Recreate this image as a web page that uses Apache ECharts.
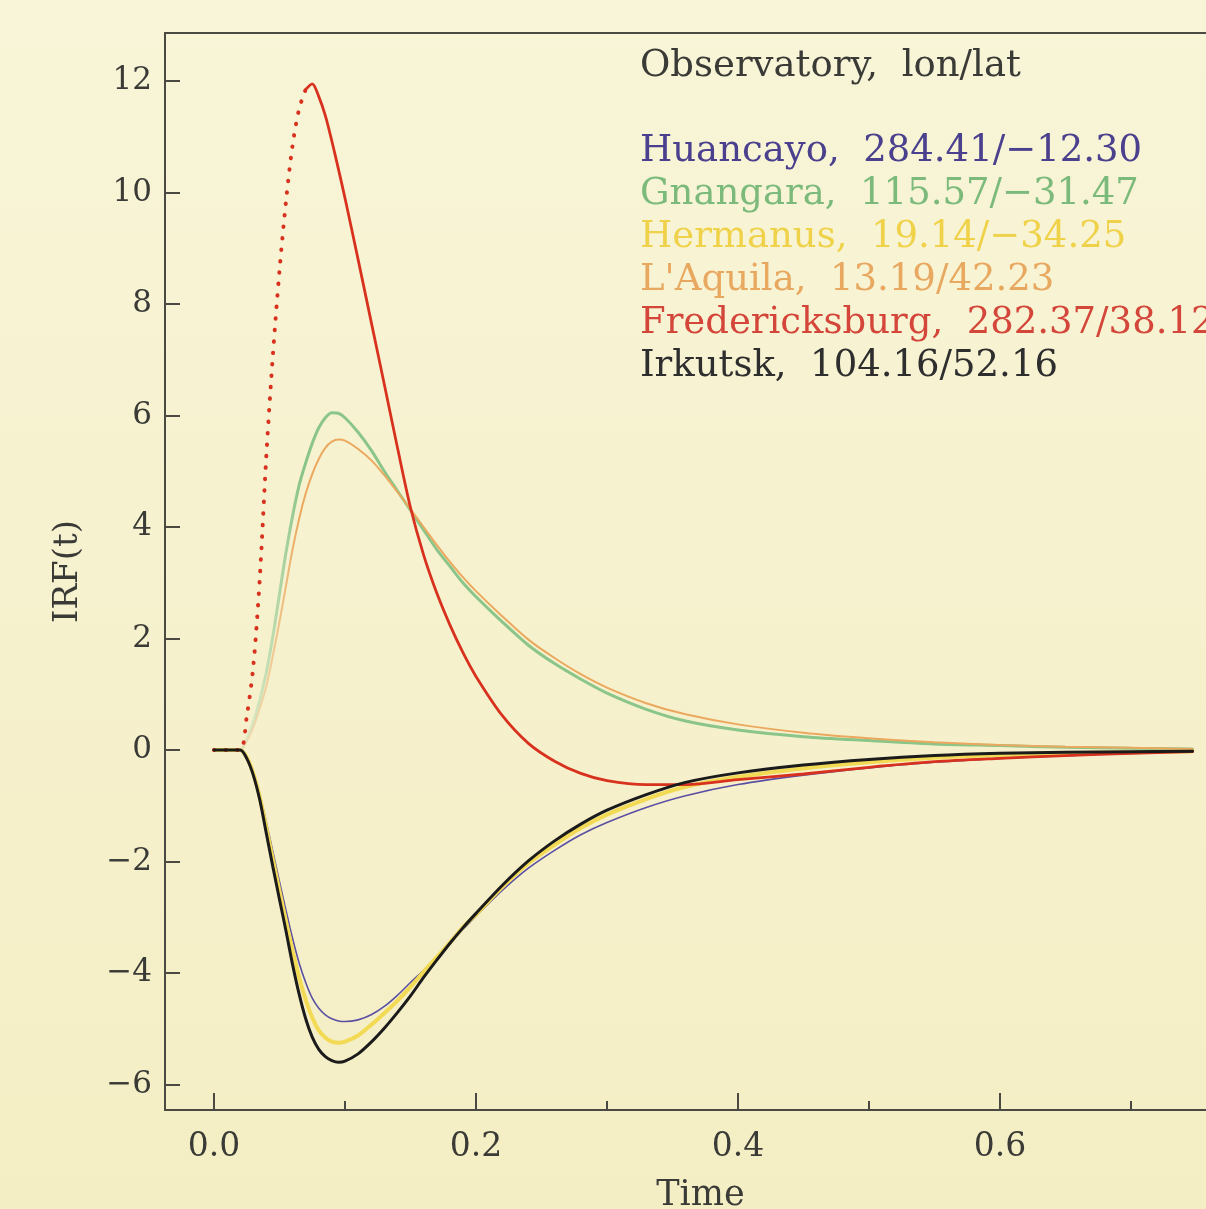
<!DOCTYPE html>
<html>
<head>
<meta charset="utf-8">
<title>IRF(t)</title>
<script src="https://cdn.jsdelivr.net/npm/echarts@6.0.0/dist/echarts.min.js"></script>
<style>
  html, body { margin: 0; padding: 0; background: #f7f3d3; }
  #chart { width: 1206px; height: 1209px; }
</style>
</head>
<body>
<div id="chart"></div>
<script>
// Impulse response functions

const TIME = [0, 0.01, 0.02, 0.025, 0.03, 0.035, 0.04, 0.045, 0.05, 0.055, 0.06, 0.065, 0.07, 0.075,
  0.08, 0.085, 0.09, 0.095, 0.1, 0.11, 0.12, 0.13, 0.14, 0.15, 0.16, 0.17, 0.18, 0.19, 0.2,
  0.22, 0.24, 0.26, 0.28, 0.3, 0.33, 0.36, 0.4, 0.45, 0.5, 0.55, 0.6, 0.65, 0.7, 0.747];

const HUANCAYO = [0, 0, 0, -0.12, -0.4, -0.8, -1.3, -1.83, -2.36, -2.88, -3.38, -3.82, -4.17, -4.45,
  -4.63, -4.75, -4.82, -4.86, -4.87, -4.84, -4.75, -4.6, -4.4, -4.17, -3.95, -3.72, -3.48, -3.22, -2.98,
  -2.52, -2.12, -1.8, -1.52, -1.3, -1.03, -0.82, -0.62, -0.45, -0.32, -0.22, -0.15, -0.1, -0.06, -0.03];

const GNANGARA = [0, 0, 0, 0.2, 0.5, 0.9, 1.4, 2.05, 2.8, 3.55, 4.2, 4.75, 5.15, 5.5,
  5.78, 5.96, 6.05, 6.04, 5.96, 5.7, 5.38, 5.0, 4.65, 4.3, 3.95, 3.6, 3.3, 3.0, 2.75,
  2.3, 1.88, 1.55, 1.27, 1.02, 0.73, 0.52, 0.36, 0.24, 0.17, 0.11, 0.08, 0.05, 0.03, 0.02];

const HERMANUS = [0, 0, 0, -0.13, -0.42, -0.85, -1.4, -1.97, -2.53, -3.08, -3.6, -4.08, -4.48, -4.8,
  -5.03, -5.16, -5.23, -5.25, -5.23, -5.12, -4.93, -4.72, -4.5, -4.25, -3.98, -3.72, -3.46, -3.18, -2.95,
  -2.46, -2.03, -1.7, -1.4, -1.16, -0.88, -0.66, -0.48, -0.33, -0.22, -0.14, -0.09, -0.06, -0.04, -0.02];

const LAQUILA = [0, 0, 0, 0.15, 0.4, 0.75, 1.15, 1.7, 2.3, 2.95, 3.6, 4.15, 4.6, 4.95,
  5.22, 5.42, 5.53, 5.57, 5.55, 5.4, 5.2, 4.93, 4.63, 4.32, 4.0, 3.68, 3.38, 3.1, 2.85,
  2.4, 1.98, 1.65, 1.36, 1.12, 0.84, 0.64, 0.46, 0.31, 0.21, 0.14, 0.09, 0.06, 0.04, 0.02];

const FREDERICKSBURG = [0, 0, 0, 0.6, 1.5, 3.1, 5.3, 7.1, 8.6, 9.85, 10.85, 11.5, 11.85, 11.95,
  11.72, 11.38, 10.92, 10.42, 9.9, 8.8, 7.68, 6.56, 5.43, 4.35, 3.5, 2.82, 2.25, 1.75, 1.32,
  0.62, 0.12, -0.2, -0.42, -0.55, -0.62, -0.62, -0.53, -0.43, -0.31, -0.21, -0.15, -0.1, -0.06, -0.03];

const IRKUTSK = [0, 0, 0, -0.15, -0.45, -0.9, -1.5, -2.1, -2.68, -3.25, -3.85, -4.38, -4.82, -5.15,
  -5.37, -5.5, -5.57, -5.6, -5.58, -5.45, -5.24, -4.99, -4.71, -4.41, -4.08, -3.77, -3.47, -3.19, -2.93,
  -2.43, -1.99, -1.63, -1.33, -1.08, -0.8, -0.58, -0.41, -0.27, -0.17, -0.1, -0.06, -0.04, -0.03, -0.02];

const STATIONS = ['Huancayo', 'Gnangara', 'Hermanus', "L'Aquila", 'Fredericksburg', 'Irkutsk'];
const COORDS = ['284.41/\u221212.30', '115.57/\u221231.47', '19.14/\u221234.25', '13.19/42.23', '282.37/38.12', '104.16/52.16'];

const X_MAJOR = [0, 0.2, 0.4, 0.6];
const X_MINOR = [0.1, 0.3, 0.5, 0.7];
const Y_TICKS = [-6, -4, -2, 0, 2, 4, 6, 8, 10, 12];

const COLORS = {
  huancayo: '#5b4fa3',
  gnangara: '#7fc081',
  hermanus: '#f2da55',
  laquila: '#eba85e',
  fred: '#d8321f',
  irkutsk: '#1b1b1b',
  axis: '#4a4a42',
  text: '#3a3a36',
};
const TEXT_COLORS = ['#4b408e', '#7cba7c', '#f0d24a', '#e8a860', '#d4463a', '#2e2e2e'];

const FONT = '"DejaVu Serif", "Liberation Serif", serif';

function pairs(vals) {
  return TIME.map((t, i) => [t, vals[i]]);
}

// the rising flanks of the positive curves are drawn very faintly in the original
function fadeIn(faint, full) {
  return {
    type: 'linear', x: 245, y: 0, x2: 300, y2: 0, global: true,
    colorStops: [{ offset: 0, color: faint }, { offset: 1, color: full }],
  };
}

function lineSeries(name, vals, color, width, extra) {
  return Object.assign({
    name, type: 'line', data: pairs(vals), showSymbol: false, smooth: 0.3,
    color, lineStyle: { color, width, cap: 'round' }, silent: true, z: 3,
  }, extra || {});
}

const chart = echarts.init(document.getElementById('chart'), null, { renderer: 'canvas' });

// Fredericksburg: sparse dots on the steep rise, near-solid after the peak
const peakIdx = FREDERICKSBURG.indexOf(Math.max(...FREDERICKSBURG));
const fredRise = pairs(FREDERICKSBURG).slice(0, peakIdx);
const fredFall = pairs(FREDERICKSBURG).slice(peakIdx - 1);

const legendText = [{
  type: 'text', left: 640, top: 48,
  style: { text: 'Observatory,  lon/lat', fill: COLORS.text, font: '37px ' + FONT },
}].concat(STATIONS.map((s, i) => ({
  type: 'text', left: 640, top: 133 + i * 43,
  style: { text: s + ',  ' + COORDS[i], fill: TEXT_COLORS[i], font: '37px ' + FONT },
})));

const X_MIN = -0.0374, X_MAX = 0.7802;
const Y_MIN = -6.457, Y_MAX = 12.861;

const axisLine = { show: true, onZero: false, lineStyle: { color: COLORS.axis, width: 2 } };

chart.setOption({
  backgroundColor: {
    type: 'linear', x: 0, y: 0, x2: 0, y2: 1,
    colorStops: [{ offset: 0, color: '#f8f5d8' }, { offset: 1, color: '#f4eec4' }],
  },
  animation: false,
  grid: { left: 165, top: 33, right: -30, bottom: 99, outerBoundsMode: 'none', containLabel: false },
  xAxis: [
    {
      type: 'value', min: X_MIN, max: X_MAX, position: 'bottom',
      name: 'Time', nameLocation: 'middle', nameGap: 68,
      nameTextStyle: { color: COLORS.text, fontSize: 35, fontFamily: FONT },
      axisLine,
      axisTick: { show: true, inside: true, length: 17, customValues: X_MAJOR, lineStyle: { color: COLORS.axis, width: 2 } },
      axisLabel: { customValues: X_MAJOR, margin: 21, color: COLORS.text, fontSize: 33, fontFamily: FONT,
        formatter: v => v.toFixed(1) },
      splitLine: { show: false },
    },
    {
      type: 'value', min: X_MIN, max: X_MAX, position: 'bottom',
      axisLine: { show: false, onZero: false },
      axisTick: { show: true, inside: true, length: 9, customValues: X_MINOR, lineStyle: { color: COLORS.axis, width: 2 } },
      axisLabel: { show: false },
      splitLine: { show: false },
    },
    {
      type: 'value', min: X_MIN, max: X_MAX, position: 'top',
      axisLine,
      axisTick: { show: false }, axisLabel: { show: false }, splitLine: { show: false },
    },
  ],
  yAxis: {
    type: 'value', min: Y_MIN, max: Y_MAX, position: 'left',
    name: 'IRF(t)', nameLocation: 'middle', nameGap: 80, nameRotate: 90,
    nameTextStyle: { color: COLORS.text, fontSize: 34, fontFamily: FONT },
    axisLine,
    axisTick: { show: true, inside: true, length: 15, customValues: Y_TICKS, lineStyle: { color: COLORS.axis, width: 2 } },
    axisLabel: { customValues: Y_TICKS, margin: 13, color: COLORS.text, fontSize: 31, fontFamily: FONT,
      formatter: v => (v < 0 ? '\u2212' + Math.abs(v) : String(v)) },
    splitLine: { show: false },
  },
  graphic: legendText,
  series: [
    lineSeries(STATIONS[0], HUANCAYO, COLORS.huancayo, 1.6),
    lineSeries(STATIONS[1], GNANGARA, COLORS.gnangara, 3, {
      lineStyle: { color: fadeIn('rgba(200,225,190,0.5)', 'rgba(127,192,129,0.9)'), width: 3, cap: 'round' },
    }),
    lineSeries(STATIONS[2], HERMANUS, COLORS.hermanus, 4),
    lineSeries(STATIONS[3], LAQUILA, COLORS.laquila, 2, {
      lineStyle: { color: fadeIn('rgba(240,205,160,0.5)', COLORS.laquila), width: 2, cap: 'round' },
    }),
    {
      name: STATIONS[4], type: 'line', data: fredRise, showSymbol: false, smooth: 0.3, silent: true, z: 4,
      color: COLORS.fred, lineStyle: { color: COLORS.fred, width: 4, type: [0.5, 11], cap: 'round' },
    },
    {
      name: STATIONS[4], type: 'line', data: fredFall, showSymbol: false, smooth: 0.3, silent: true, z: 4,
      color: COLORS.fred, lineStyle: { color: COLORS.fred, width: 2.8, cap: 'round' },
    },
    lineSeries(STATIONS[5], IRKUTSK, COLORS.irkutsk, 3, { z: 5 }),
  ],
});
</script>
</body>
</html>
